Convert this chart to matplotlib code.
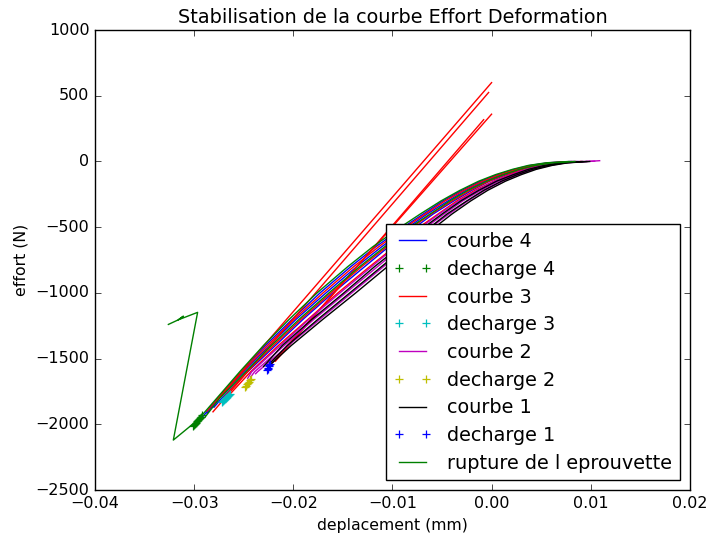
import matplotlib
matplotlib.use('Agg')
import matplotlib.pyplot as plt

plt.style.use('classic')

# ---------------- data ----------------
# load levels (N) at which each loading curve was read
levels = [0, -10, -30, -60, -100, -150, -220, -300, -400, -500, -650, -800,
          -1000, -1200, -1400, -1600, -1800]

# courbe 4 (blue) : three loading cycles
c4_x = [
    [0.0080, 0.0057, 0.0039, 0.0023, 0.0006, -0.0011, -0.0030, -0.0049, -0.0069, -0.0089, -0.0117, -0.0142,
     -0.0173, -0.0201, -0.0228, -0.0252, -0.0276, -0.0291],
    [0.0083, 0.0060, 0.0042, 0.0026, 0.0010, -0.0007, -0.0026, -0.0044, -0.0065, -0.0084, -0.0111, -0.0136,
     -0.0167, -0.0197, -0.0224, -0.0250, -0.0275, -0.0287],
    [0.0087, 0.0064, 0.0047, 0.0031, 0.0015, -0.0002, -0.0020, -0.0038, -0.0059, -0.0077, -0.0104, -0.0128,
     -0.0160, -0.0190, -0.0218, -0.0246, -0.0272, -0.0280],
]
c4_y = [levels + [-1940], levels + [-1915], levels + [-1870]]

# decharge 4 (green +)
d4_x = [-0.0301, -0.0300, -0.0299, -0.0298, -0.0297, -0.0296, -0.0295, -0.0294, -0.0293, -0.0292]
d4_y = [-2015, -2005, -1995, -1988, -1978, -1968, -1960, -1950, -1942, -1932]

# courbe 3 (red) : curved cycles + straight reload lines
c3_x = [
    [0.0081, 0.0058, 0.0041, 0.0025, 0.0008, -0.0009, -0.0028, -0.0047, -0.0067, -0.0087, -0.0114, -0.0139,
     -0.0170, -0.0199, -0.0226, -0.0251, -0.0275, -0.0277],
    [0.0085, 0.0063, 0.0045, 0.0029, 0.0013, -0.0003, -0.0022, -0.0040, -0.0061, -0.0080, -0.0106, -0.0131,
     -0.0162, -0.0192, -0.0220, -0.0247, -0.0270],
    [0.0090, 0.0067, 0.0050, 0.0034, 0.0018, 0.0002, -0.0017, -0.0035, -0.0054, -0.0073, -0.0098, -0.0123,
     -0.0155, -0.0185, -0.0215, -0.0243, -0.0265],
    [-0.0287, 0.0000],
    [-0.0281, -0.0003],
    [-0.0222, 0.0000],
    [-0.0218, -0.0008],
]
c3_y = [
    levels + [-1815],
    levels[:16] + [-1795],
    levels[:16] + [-1780],
    [-1900, 600],
    [-1905, 525],
    [-1540, 360],
    [-1520, 318],
]

# decharge 3 (cyan +)
d3_x = [-0.0272, -0.0271, -0.0270, -0.0269, -0.0268, -0.0267, -0.0266, -0.0265, -0.0264]
d3_y = [-1832, -1825, -1815, -1808, -1800, -1792, -1784, -1776, -1768]

# courbe 2 (magenta)
c2_x = [
    [0.0091, 0.0068, 0.0051, 0.0035, 0.0020, 0.0003, -0.0015, -0.0033, -0.0053, -0.0071, -0.0097, -0.0121,
     -0.0153, -0.0184, -0.0213, -0.0242, -0.0246],
    [0.0104, 0.0094, 0.0072, 0.0055, 0.0039, 0.0024, 0.0007, -0.0011, -0.0029, -0.0048, -0.0066, -0.0091, -0.0115,
     -0.0147, -0.0179, -0.0209, -0.0239, -0.0243],
    [0.0109, 0.0097, 0.0075, 0.0059, 0.0043, 0.0027, 0.0011, -0.0007, -0.0024, -0.0043, -0.0061, -0.0085, -0.0109,
     -0.0141, -0.0173, -0.0205, -0.0236, -0.0238],
]
c2_y = [levels[:16] + [-1650], [3] + levels[:16] + [-1640], [6] + levels[:16] + [-1615]]

# decharge 2 (yellow +)
d2_x = [-0.0249, -0.0248, -0.0247, -0.0246, -0.0245, -0.0244, -0.0243]
d2_y = [-1715, -1705, -1695, -1686, -1676, -1666, -1656]

# courbe 1 (black)
c1_x = [
    [0.0092, 0.0070, 0.0053, 0.0037, 0.0022, 0.0005, -0.0013, -0.0031, -0.0050, -0.0068, -0.0093, -0.0118,
     -0.0149, -0.0181, -0.0211, -0.0230],
    [0.0096, 0.0074, 0.0057, 0.0041, 0.0026, 0.0010, -0.0008, -0.0025, -0.0045, -0.0062, -0.0087, -0.0111,
     -0.0143, -0.0175, -0.0206, -0.0226],
    [0.0099, 0.0077, 0.0061, 0.0045, 0.0030, 0.0014, -0.0004, -0.0021, -0.0040, -0.0057, -0.0081, -0.0105,
     -0.0137, -0.0170, -0.0202, -0.0223],
]
c1_y = [levels[:15] + [-1560], levels[:15] + [-1555], levels[:15] + [-1545]]

# decharge 1 (blue +)
d1_x = [-0.0227, -0.0226, -0.0226, -0.0225, -0.0224, -0.0223]
d1_y = [-1590, -1578, -1568, -1558, -1548, -1538]

# rupture de l eprouvette (green)
rup_x = [
    [0.0084, 0.0062, 0.0044, 0.0028, 0.0012, -0.0005, -0.0024, -0.0042, -0.0062, -0.0082, -0.0108, -0.0133,
     -0.0164, -0.0194, -0.0222, -0.0248, -0.0274, -0.0289],
    [0.0078, 0.0055, 0.0037, 0.0021, 0.0004, -0.0013, -0.0032, -0.0051, -0.0072, -0.0092, -0.0120, -0.0145,
     -0.0176, -0.0204, -0.0230, -0.0254, -0.0277, -0.0296,
     -0.0321, -0.02965, -0.0316, -0.0311, -0.0316, -0.0326],
]
rup_y = [
    levels + [-1945],
    levels + [-1965, -2120, -1148, -1205, -1178, -1205, -1240],
]

x_ticks = [-0.04, -0.03, -0.02, -0.01, 0.00, 0.01, 0.02]
y_ticks = [1000, 500, 0, -500, -1000, -1500, -2000, -2500]

# ---------------- figure ----------------
fig = plt.figure(figsize=(7.09, 5.37), dpi=100, facecolor='white')
ax = fig.add_axes([0.134, 0.0875, 0.839, 0.8565])

LW = 1.0
MS = 5.5
MEW = 0.9


def draw_lines(xs, ys, color, label):
    for i, (x, y) in enumerate(zip(xs, ys)):
        ax.plot(x, y, '-', color=color, lw=LW, label=label if i == 0 else '_nolegend_')


def draw_marks(x, y, color, label):
    ax.plot(x, y, '+', color=color, ms=MS, mew=MEW, linestyle='none', label=label)


draw_lines(c4_x, c4_y, 'b', 'courbe 4')
draw_marks(d4_x, d4_y, 'g', 'decharge 4')
draw_lines(c3_x, c3_y, 'r', 'courbe 3')
draw_marks(d3_x, d3_y, 'c', 'decharge 3')
draw_lines(c2_x, c2_y, 'm', 'courbe 2')
draw_marks(d2_x, d2_y, 'y', 'decharge 2')
draw_lines(c1_x, c1_y, 'k', 'courbe 1')
draw_marks(d1_x, d1_y, 'b', 'decharge 1')
draw_lines(rup_x, rup_y, 'g', 'rupture de l eprouvette')

ax.set_xlim(-0.04, 0.02)
ax.set_ylim(-2500, 1000)
ax.set_xticks(x_ticks)
ax.set_yticks(y_ticks)
ax.tick_params(labelsize=11.5)
ax.set_xlabel('deplacement (mm)', fontsize=11.3)
ax.set_ylabel('effort (N)', fontsize=11.3)
ax.set_title('Stabilisation de la courbe Effort Deformation', fontsize=13.9)

leg = ax.legend(loc='lower right', fontsize=13.9, numpoints=2, fancybox=False,
                shadow=False, framealpha=1.0, labelspacing=0.45)
leg.get_frame().set_edgecolor('black')

fig.savefig('out.png', dpi=100, facecolor='white')
